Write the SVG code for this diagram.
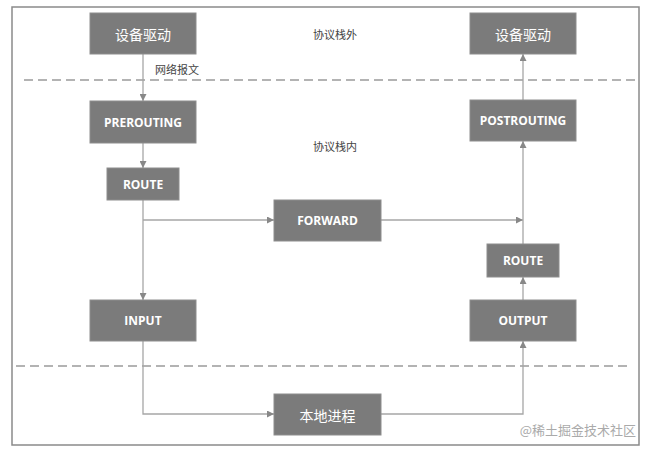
<svg xmlns="http://www.w3.org/2000/svg" width="651" height="450" viewBox="0 0 651 450">
<defs>
<marker id="ah" viewBox="0 0 10 10" refX="10" refY="5" markerWidth="7" markerHeight="7" markerUnits="userSpaceOnUse" orient="auto">
<path d="M0,0 L10,5 L0,10 z" fill="#888"/>
</marker>
<style>
.node rect{fill:#7b7b7b;stroke:#8e8e8e;stroke-width:1}
.node text{fill:#fff;font-family:"Open Sans","Liberation Sans","Noto Sans CJK SC",sans-serif;font-weight:bold;font-size:12px;text-anchor:middle;dominant-baseline:central}
.node text.cn{font-family:"Noto Sans CJK SC",sans-serif;font-weight:normal;font-size:14px}
.conn path{fill:none;stroke:#a6a6a6;stroke-width:1.3;marker-end:url(#ah)}
.dash{stroke:#9a9a9a;stroke-width:1.3;stroke-dasharray:9 5;fill:none}
.lbl{fill:#444;font-family:"Noto Sans CJK SC",sans-serif;font-size:11px;dominant-baseline:central}
</style>
</defs>
<rect width="651" height="450" fill="#fff"/>
<rect x="12" y="7" width="627" height="438" fill="#fff" stroke="#8a8a8a" stroke-width="1.5"/>
<line class="dash" x1="24" y1="80" x2="636" y2="80"/>
<line class="dash" x1="16" y1="366" x2="632" y2="366"/>
<text class="lbl" x="313" y="34">协议栈外</text>
<text class="lbl" x="313" y="146">协议栈内</text>
<text class="lbl" x="155" y="69">网络报文</text>
<text x="636" y="429" fill="#aaa" font-family="Noto Sans CJK SC,sans-serif" font-size="13" text-anchor="end" dominant-baseline="central">@稀土掘金技术社区</text>
<g class="conn">
<path d="M143,54 V101"/>
<path d="M143,143 V168"/>
<path d="M143,200 V300"/>
<path d="M143,220 H274"/>
<path d="M381,220 H523"/>
<path d="M523,244 V141"/>
<path d="M523,100 V54"/>
<path d="M523,300 V277"/>
<path d="M143,341 V414 H274"/>
<path d="M381,414 H523 V341"/>
</g>
<g id="dev-in" class="node"><rect x="90" y="13" width="106" height="41"/><text class="cn" x="143" y="33.5">设备驱动</text></g>
<g id="dev-out" class="node"><rect x="470" y="13" width="106" height="41"/><text class="cn" x="523" y="33.5">设备驱动</text></g>
<g id="prerouting" class="node"><rect x="90" y="101" width="106" height="42"/><text x="143" y="122">PREROUTING</text></g>
<g id="postrouting" class="node"><rect x="470" y="100" width="106" height="41"/><text x="523" y="120.5">POSTROUTING</text></g>
<g id="route-in" class="node"><rect x="107" y="168" width="72" height="32"/><text x="143" y="184">ROUTE</text></g>
<g id="forward" class="node"><rect x="274" y="200" width="107" height="41"/><text x="327.5" y="220.5">FORWARD</text></g>
<g id="route-out" class="node"><rect x="487" y="244" width="72" height="33"/><text x="523" y="260.5">ROUTE</text></g>
<g id="input" class="node"><rect x="90" y="300" width="106" height="41"/><text x="143" y="320.5">INPUT</text></g>
<g id="output" class="node"><rect x="470" y="300" width="106" height="41"/><text x="523" y="320.5">OUTPUT</text></g>
<g id="local" class="node"><rect x="274" y="394" width="107" height="41"/><text class="cn" x="327.5" y="414.5">本地进程</text></g>
</svg>
